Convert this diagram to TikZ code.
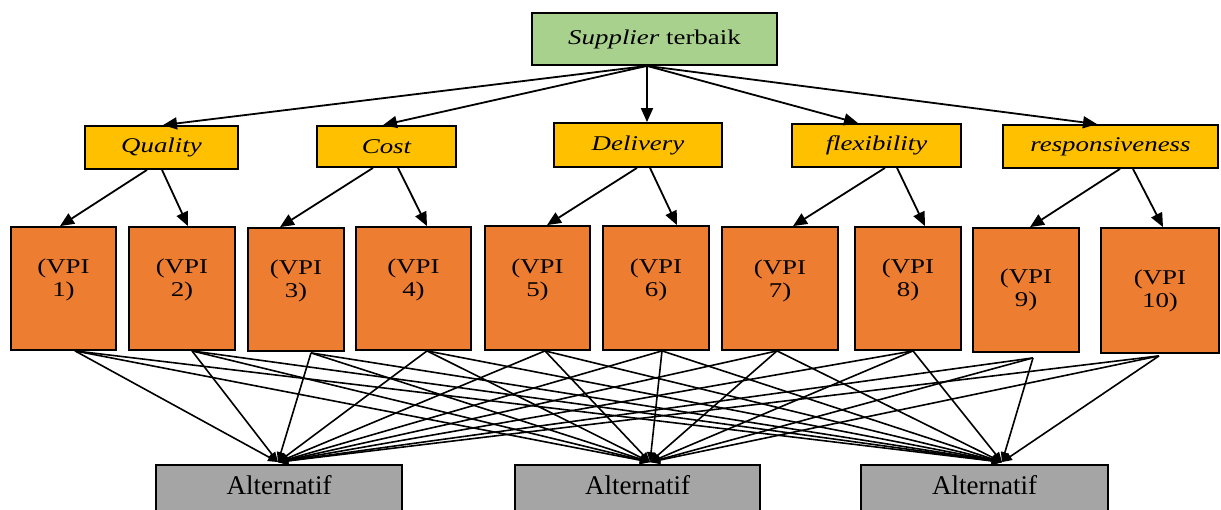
\documentclass[tikz,border=0pt]{standalone}
\usepackage{fontspec}
\setmainfont{Liberation Serif}
\newfontfamily\widefont[FakeStretch=1.28]{Liberation Serif}
\usetikzlibrary{arrows.meta}
\definecolor{topgreen}{HTML}{A9D18E}
\definecolor{critgold}{HTML}{FFC000}
\definecolor{vpiorange}{HTML}{ED7D31}
\definecolor{altgray}{HTML}{A5A5A5}

\begin{document}
\begin{tikzpicture}[x=1pt,y=-1pt,
  box/.style={draw=black,line width=1.8pt,inner sep=0pt},
  wh/.style 2 args={minimum width=#1pt,minimum height=#2pt},
  goal/.style={box,fill=topgreen,font=\widefont\fontsize{21}{24}\selectfont},
  crit/.style={box,fill=critgold,font=\widefont\itshape\fontsize{21}{24}\selectfont},
  vpi/.style={box,fill=vpiorange},
  vpitext/.style={align=center,inner sep=0pt,font=\widefont\fontsize{21}{23}\selectfont},
  alt/.style={box,fill=altgray},
  alttext/.style={inner sep=0pt,anchor=base,font=\fontsize{27}{30}\selectfont},
  arr/.style={line width=1.8pt,-{Triangle[length=14pt,width=12pt]}},
  link/.style={line width=1.6pt,-{Triangle[length=10pt,width=8pt]}}]

\useasboundingbox (0,0) rectangle (1221,509);
\clip (0,0) rectangle (1221,509);

% goal
\node[goal,wh={245}{52}] (top) at (654.5,39) {\textit{Supplier} terbaik};

% criteria
\node[crit,wh={153}{43}] (q) at (161.5,147.5) {Quality};
\node[crit,wh={139}{41}] (c) at (386.5,146.5) {Cost};
\node[crit,wh={168}{44}] (d) at (638,145) {Delivery};
\node[crit,wh={169}{43}] (f) at (876.5,145.5) {flexibility};
\node[crit,wh={215}{43}] (r) at (1110.5,146.5) {responsiveness};

% indicators
\node[vpi,wh={105}{123}] (v1) at (63.5,288.5) {};
\node[vpi,wh={106}{123}] (v2) at (182,288.5) {};
\node[vpi,wh={96}{123}] (v3) at (296,289.5) {};
\node[vpi,wh={115}{123}] (v4) at (413.5,288.5) {};
\node[vpi,wh={105}{124}] (v5) at (537.5,288) {};
\node[vpi,wh={106}{124}] (v6) at (656,288) {};
\node[vpi,wh={116}{123}] (v7) at (780,288.5) {};
\node[vpi,wh={106}{123}] (v8) at (908,288.5) {};
\node[vpi,wh={106}{124}] (v9) at (1026,290) {};
\node[vpi,wh={118}{125}] (v10) at (1160,290.5) {};

\foreach \i/\dy in {1/9,2/9,3/9,4/9,5/8,6/8,7/8,8/9,9/0,10/0}
  \node[vpitext] (t\i) at ([yshift=\dy pt]v\i.center) {(VPI\\\i)};

% alternatives
\node[alt,wh={246}{80}] (a1) at (279,505) {};
\node[alt,wh={245}{80}] (a2) at (637.5,505) {};
\node[alt,wh={247}{80}] (a3) at (984.5,505) {};
\foreach \j in {1,2,3}
  \node[alttext] (at\j) at ([yshift=-30pt]a\j.north) {Alternatif};

% goal to criteria
\draw[arr] ([xshift=-7.5pt]top.south) -- ([xshift=1.5pt]q.north);
\draw[arr] ([xshift=-7.5pt]top.south) -- ([xshift=-3.5pt]c.north);
\draw[arr] ([xshift=-7.5pt]top.south) -- ([xshift=9pt]d.north);
\draw[arr] ([xshift=-7.5pt]top.south) -- ([xshift=-18.5pt]f.north);
\draw[arr] ([xshift=-7.5pt]top.south) -- ([xshift=-13.5pt]r.north);

% criteria to indicators
\draw[arr] ([xshift=-14.5pt]q.south) -- ([xshift=-3.5pt]v1.north);
\draw[arr] ([xshift=0.5pt]q.south) -- ([xshift=6pt]v2.north);
\draw[arr] ([xshift=-13.5pt]c.south) -- ([xshift=-16pt]v3.north);
\draw[arr] ([xshift=11.5pt]c.south) -- ([xshift=13.5pt]v4.north);
\draw[arr] ([xshift=-1pt]d.south) -- ([xshift=9.5pt]v5.north);
\draw[arr] ([xshift=12pt]d.south) -- ([xshift=21pt]v6.north);
\draw[arr] ([xshift=8.5pt]f.south) -- ([xshift=13pt]v7.north);
\draw[arr] ([xshift=20.5pt]f.south) -- ([xshift=17pt]v8.north);
\draw[arr] ([xshift=9.5pt]r.south) -- ([xshift=4pt]v9.north);
\draw[arr] ([xshift=22.5pt]r.south) -- ([xshift=3pt]v10.north);

% indicators to alternatives
\foreach \i/\dx/\dy in {1/11.5/0,2/10/0,3/15/1,4/13.5/0,5/7.5/0,6/6/0,7/-3/0,8/5/0,9/7/5,10/-1/2}
  \coordinate (s\i) at ([xshift=\dx pt,yshift=-\dy pt]v\i.south);
\foreach \j/\dx in {1/-1,2/12.5,3/17.5}
  \coordinate (e\j) at ([xshift=\dx pt,yshift=2pt]a\j.north);
\foreach \i in {1,...,10}
  \foreach \j in {1,2,3}
    \draw[link] (s\i) -- (e\j);
\end{tikzpicture}
\end{document}
